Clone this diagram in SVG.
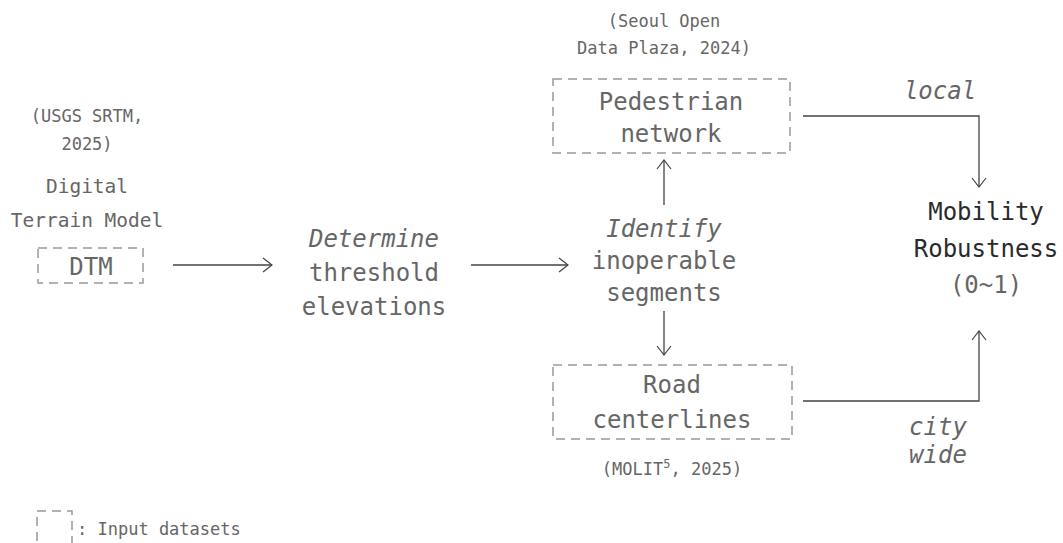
<svg xmlns="http://www.w3.org/2000/svg" width="1063" height="543" viewBox="0 0 1063 543">
  <defs>
    <marker id="head" markerWidth="12" markerHeight="16" refX="11" refY="8" orient="auto" markerUnits="userSpaceOnUse">
      <path d="M2,1 L11,8 L2,15" fill="none" stroke="#444" stroke-width="1.2"/>
    </marker>
    <style>
      text { font-family: "DejaVu Sans Mono", "Liberation Mono", monospace; fill: #666; text-anchor: middle; }
      .big { font-size: 24px; }
      .mid { font-size: 19.5px; }
      .small { font-size: 17px; }
      .it { font-style: italic; }
      .dark { fill: #2a2a2a; }
      .box { fill: none; stroke: #999; stroke-width: 1.5; stroke-dasharray: 9 6; }
      .conn { fill: none; stroke: #444; stroke-width: 1.3; marker-end: url(#head); }
      .leg { text-anchor: start; }
    </style>
  </defs>
  <rect width="1063" height="543" fill="#ffffff"/>

  <!-- Elevation model input -->
  <g id="dtm">
    <text class="small" x="87" y="122">(USGS SRTM,</text>
    <text class="small" x="87" y="150">2025)</text>
    <text class="mid" x="87" y="193">Digital</text>
    <text class="mid" x="87" y="227">Terrain Model</text>
    <rect class="box" x="38" y="248" width="105" height="35"/>
    <text class="big" x="91" y="275">DTM</text>
  </g>

  <!-- Threshold step -->
  <g id="threshold">
    <text class="big it" x="374" y="247">Determine</text>
    <text class="big" x="374" y="281">threshold</text>
    <text class="big" x="374" y="315">elevations</text>
  </g>

  <!-- Segment identification -->
  <g id="identify">
    <text class="big it" x="664" y="237">Identify</text>
    <text class="big" x="664" y="269">inoperable</text>
    <text class="big" x="664" y="301">segments</text>
  </g>

  <!-- Pedestrian network input -->
  <g id="pedestrian">
    <text class="small" x="664" y="27">(Seoul Open</text>
    <text class="small" x="664" y="54">Data Plaza, 2024)</text>
    <rect class="box" x="553" y="79" width="237" height="74"/>
    <text class="big" x="671" y="110">Pedestrian</text>
    <text class="big" x="671" y="142">network</text>
  </g>

  <!-- Road centerline input -->
  <g id="road">
    <rect class="box" x="553" y="365" width="239" height="74"/>
    <text class="big" x="672" y="393">Road</text>
    <text class="big" x="672" y="428">centerlines</text>
    <text class="small" x="672" y="475">(MOLIT<tspan font-size="12" dy="-7">5</tspan><tspan dy="7">, 2025)</tspan></text>
  </g>

  <!-- Output metric -->
  <g id="robustness">
    <text class="big dark" x="986" y="220">Mobility</text>
    <text class="big dark" x="986" y="257">Robustness</text>
    <text class="big" x="986" y="293">(0~1)</text>
  </g>

  <!-- Legend -->
  <g id="legend">
    <rect class="box" x="37" y="511" width="35" height="40" stroke-dasharray="5 8 9 6"/>
    <text class="small leg" x="77" y="535">: Input datasets</text>
  </g>

  <!-- Connectors -->
  <g id="connectors">
    <line class="conn" x1="173" y1="265" x2="272" y2="265"/>
    <line class="conn" x1="471" y1="265" x2="568" y2="265"/>
    <line class="conn" x1="664" y1="205" x2="664" y2="160"/>
    <line class="conn" x1="664" y1="311" x2="664" y2="355"/>
    <polyline class="conn" points="803,116 979,116 979,187"/>
    <polyline class="conn" points="803,401 979,401 979,331"/>
    <text class="big it" x="940" y="99">local</text>
    <text class="big it" x="938" y="435">city</text>
    <text class="big it" x="938" y="463">wide</text>
  </g>
</svg>
